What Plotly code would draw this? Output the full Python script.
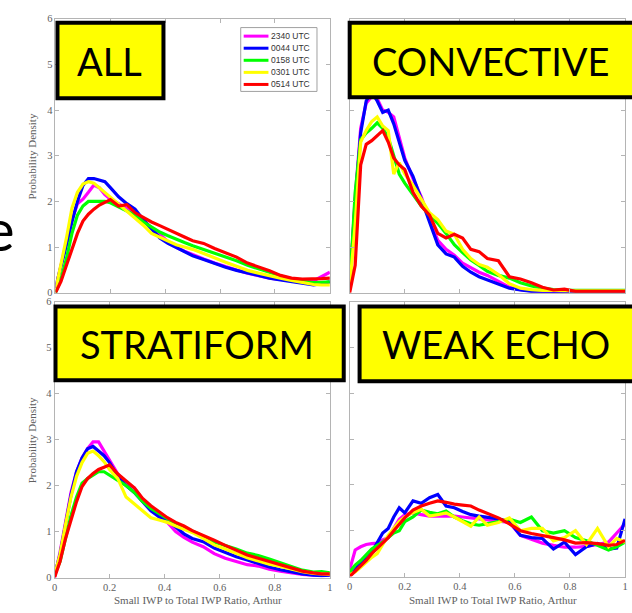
import plotly.graph_objects as go

# Ratio axis (shared by every curve)
X = [0.00, 0.02, 0.04, 0.06, 0.08, 0.10, 0.12, 0.14, 0.16, 0.18, 0.20,
     0.23, 0.26, 0.29, 0.32, 0.35, 0.38, 0.41, 0.44, 0.47, 0.50,
     0.54, 0.58, 0.62, 0.66, 0.70, 0.74, 0.78, 0.82, 0.86, 0.90,
     0.94, 0.97, 1.00]

TIMES = ["2340 UTC", "0044 UTC", "0158 UTC", "0301 UTC", "0514 UTC"]
COLORS = ["#ff00ff", "#0000ff", "#00ff00", "#ffff00", "#ff0000"]

# ---- ALL ----
ALL_2340 = [0.10, 0.60, 1.10, 1.60, 1.95, 2.05, 2.20, 2.36, 2.30, 2.15, 2.05,
            1.95, 1.85, 1.72, 1.58, 1.43, 1.28, 1.12, 1.00, 0.91, 0.83,
            0.74, 0.65, 0.57, 0.50, 0.43, 0.37, 0.32, 0.29, 0.27, 0.26,
            0.26, 0.35, 0.45]
ALL_0044 = [0.10, 0.55, 1.05, 1.55, 2.00, 2.35, 2.50, 2.50, 2.47, 2.43, 2.30,
            2.10, 1.95, 1.83, 1.60, 1.40, 1.20, 1.08, 0.99, 0.90, 0.81,
            0.73, 0.64, 0.56, 0.49, 0.43, 0.37, 0.32, 0.28, 0.24, 0.20,
            0.17, 0.20, 0.24]
ALL_0158 = [0.00, 0.30, 0.75, 1.30, 1.70, 1.90, 2.00, 2.00, 2.00, 2.00, 1.97,
            1.88, 1.80, 1.70, 1.55, 1.43, 1.33, 1.25, 1.17, 1.10, 1.03,
            0.95, 0.86, 0.78, 0.70, 0.60, 0.53, 0.45, 0.37, 0.30, 0.25,
            0.22, 0.23, 0.24]
ALL_0301 = [0.05, 0.60, 1.20, 1.85, 2.20, 2.38, 2.43, 2.40, 2.30, 2.20, 2.10,
            1.95, 1.80, 1.65, 1.48, 1.30, 1.22, 1.14, 1.05, 1.00, 0.95,
            0.86, 0.76, 0.67, 0.58, 0.49, 0.43, 0.37, 0.32, 0.27, 0.22,
            0.18, 0.17, 0.17]
ALL_0514 = [0.00, 0.25, 0.60, 0.97, 1.30, 1.57, 1.72, 1.83, 1.92, 1.98, 2.04,
            1.90, 1.93, 1.75, 1.65, 1.55, 1.47, 1.38, 1.30, 1.22, 1.14,
            1.08, 0.97, 0.87, 0.78, 0.65, 0.57, 0.48, 0.38, 0.32, 0.30,
            0.30, 0.31, 0.32]

# ---- CONVECTIVE ----
CONV_2340 = [0.10, 2.10, 3.60, 4.15, 4.30, 4.25, 4.00, 3.95, 3.85, 3.40, 2.95,
             2.50, 2.10, 1.60, 1.15, 0.95, 0.82, 0.65, 0.55, 0.45, 0.38,
             0.25, 0.12, 0.07, 0.04, 0.03, 0.02, 0.02, 0.02, 0.02, 0.02,
             0.02, 0.02, 0.02]
CONV_0044 = [0.10, 2.00, 3.50, 4.20, 4.40, 4.20, 3.95, 4.00, 3.70, 3.30, 2.90,
             2.55, 2.05, 1.50, 1.05, 0.85, 0.78, 0.58, 0.45, 0.35, 0.28,
             0.18, 0.10, 0.06, 0.03, 0.02, 0.02, 0.02, 0.02, 0.02, 0.02,
             0.02, 0.02, 0.02]
CONV_0158 = [0.10, 2.20, 3.35, 3.50, 3.60, 3.72, 3.60, 3.40, 3.00, 2.60, 2.40,
             2.15, 1.90, 1.70, 1.52, 1.30, 1.05, 0.88, 0.72, 0.60, 0.47,
             0.38, 0.32, 0.22, 0.15, 0.10, 0.07, 0.06, 0.06, 0.06, 0.06,
             0.05, 0.05, 0.05]
CONV_0301 = [0.10, 1.50, 3.30, 3.55, 3.75, 3.85, 3.65, 3.55, 2.60, 2.85, 2.60,
             2.35, 2.05, 1.75, 1.60, 1.35, 1.28, 0.95, 0.75, 0.62, 0.56,
             0.40, 0.20, 0.10, 0.07, 0.05, 0.05, 0.04, 0.04, 0.04, 0.04,
             0.04, 0.04, 0.04]
CONV_0514 = [0.00, 0.60, 2.80, 3.25, 3.33, 3.45, 3.55, 3.30, 2.95, 2.80, 2.70,
             2.20, 1.90, 1.70, 1.30, 1.20, 1.28, 1.20, 0.95, 0.90, 0.75,
             0.70, 0.35, 0.30, 0.22, 0.12, 0.06, 0.08, 0.03, 0.03, 0.03,
             0.03, 0.03, 0.03]

# ---- STRATIFORM ----
STRAT_2340 = [0.00, 0.55, 1.20, 1.85, 2.30, 2.60, 2.80, 2.95, 2.95, 2.75, 2.55,
              2.25, 2.05, 1.95, 1.70, 1.50, 1.32, 1.20, 1.00, 0.87, 0.77,
              0.67, 0.52, 0.42, 0.35, 0.28, 0.25, 0.18, 0.14, 0.10, 0.07,
              0.05, 0.05, 0.06]
STRAT_0044 = [0.05, 0.50, 1.15, 1.80, 2.30, 2.60, 2.80, 2.85, 2.75, 2.65, 2.50,
              2.20, 2.00, 1.85, 1.65, 1.45, 1.32, 1.25, 1.10, 0.95, 0.85,
              0.78, 0.64, 0.55, 0.45, 0.38, 0.30, 0.23, 0.17, 0.12, 0.08,
              0.05, 0.04, 0.05]
STRAT_0158 = [0.05, 0.35, 0.85, 1.35, 1.75, 2.05, 2.15, 2.22, 2.30, 2.30, 2.22,
              2.10, 2.00, 1.85, 1.65, 1.50, 1.38, 1.28, 1.18, 1.10, 1.02,
              0.90, 0.77, 0.70, 0.62, 0.53, 0.48, 0.40, 0.32, 0.23, 0.16,
              0.12, 0.13, 0.10]
STRAT_0301 = [0.05, 0.50, 1.15, 1.75, 2.20, 2.50, 2.70, 2.75, 2.65, 2.52, 2.35,
              2.15, 1.75, 1.60, 1.45, 1.30, 1.25, 1.20, 1.12, 1.05, 0.98,
              0.85, 0.71, 0.62, 0.52, 0.43, 0.36, 0.29, 0.24, 0.18, 0.13,
              0.09, 0.08, 0.07]
STRAT_0514 = [0.00, 0.35, 0.85, 1.25, 1.65, 1.98, 2.15, 2.26, 2.35, 2.40, 2.45,
              2.25, 2.10, 1.95, 1.72, 1.56, 1.43, 1.30, 1.20, 1.12, 1.02,
              0.92, 0.81, 0.70, 0.60, 0.49, 0.42, 0.35, 0.28, 0.20, 0.14,
              0.10, 0.08, 0.08]

# ---- WEAK ECHO ----
WEAK_2340 = [0.15, 0.58, 0.65, 0.70, 0.72, 0.73, 0.80, 0.85, 1.05, 1.25, 1.35,
             1.39, 1.35, 1.32, 1.32, 1.32, 1.32, 1.30, 1.28, 1.26, 1.24,
             1.20, 1.18, 0.90, 0.82, 0.73, 0.68, 0.64, 0.64, 0.66, 0.70,
             0.75, 0.95, 1.15]
WEAK_0044 = [0.04, 0.15, 0.30, 0.45, 0.53, 0.75, 0.95, 1.05, 1.30, 1.50, 1.39,
             1.65, 1.60, 1.72, 1.79, 1.54, 1.50, 1.42, 1.35, 1.32, 1.30,
             1.26, 1.20, 0.90, 0.85, 0.83, 0.60, 0.75, 0.48, 0.65, 0.72,
             0.60, 0.62, 1.26]
WEAK_0158 = [0.10, 0.25, 0.35, 0.47, 0.60, 0.68, 0.75, 0.85, 0.95, 1.00, 1.20,
             1.30, 1.45, 1.40, 1.37, 1.43, 1.30, 1.22, 1.15, 1.12, 1.15,
             1.20, 1.25, 1.18, 1.30, 1.00, 0.95, 1.00, 0.85, 0.78, 0.68,
             0.58, 0.65, 0.75]
WEAK_0301 = [0.04, 0.10, 0.20, 0.32, 0.42, 0.50, 0.70, 0.90, 1.05, 1.20, 1.30,
             1.40, 1.47, 1.32, 1.35, 1.39, 1.30, 1.20, 1.10, 1.30, 1.12,
             1.18, 1.28, 1.00, 1.05, 1.05, 0.78, 0.85, 1.00, 0.70, 1.05,
             0.65, 0.83, 0.75]
WEAK_0514 = [0.00, 0.12, 0.25, 0.35, 0.50, 0.62, 0.75, 0.85, 1.00, 1.15, 1.28,
             1.45, 1.54, 1.60, 1.65, 1.62, 1.58, 1.56, 1.54, 1.45, 1.38,
             1.28, 1.15, 1.00, 0.94, 0.90, 0.85, 0.80, 0.73, 0.74, 0.72,
             0.68, 0.70, 0.79]

PANEL_TITLES = ["ALL", "CONVECTIVE", "STRATIFORM", "WEAK ECHO"]
PANEL_SERIES = [
    [ALL_2340, ALL_0044, ALL_0158, ALL_0301, ALL_0514],
    [CONV_2340, CONV_0044, CONV_0158, CONV_0301, CONV_0514],
    [STRAT_2340, STRAT_0044, STRAT_0158, STRAT_0301, STRAT_0514],
    [WEAK_2340, WEAK_0044, WEAK_0158, WEAK_0301, WEAK_0514],
]
X_TICKS = [0, 0.2, 0.4, 0.6, 0.8, 1]
X_TICK_TEXT = ["0", "0.2", "0.4", "0.6", "0.8", "1"]
Y_TICKS = [0, 1, 2, 3, 4, 5, 6]

W, H = 632, 613


def fx(p):
    return p / W


def fy(p):
    return 1 - p / H


# pixel boxes of the four plot areas: (left, right, top, bottom)
AREAS = [(53, 330, 14, 293), (350, 628, 14, 293),
         (52, 330, 302, 583), (350, 628, 302, 582)]
# label boxes: (left, right, top, bottom) along the border centre line
LABEL_BOXES = [(55, 162, 18, 95), (350, 640, 18, 94),
               (53, 344, 307, 382), (360, 640, 307, 383)]
# centres of the label texts
LABEL_CENTRES = [(108, 57), (493, 57), (196, 345), (498, 345)]

GREY = "#606060"
TICK_FONT = dict(family="Liberation Serif", size=10.5, color=GREY)

fig = go.Figure()
layout = dict(width=W, height=H, margin=dict(l=0, r=0, t=0, b=0),
              paper_bgcolor="white", plot_bgcolor="white",
              showlegend=False, shapes=[], annotations=[])


def note(x, y, text, font, **kw):
    d = dict(xref="paper", yref="paper", x=fx(x), y=fy(y), text=text,
             showarrow=False, xanchor="center", yanchor="middle", font=font)
    d.update(kw)
    layout["annotations"].append(d)


for k, (series, area) in enumerate(zip(PANEL_SERIES, AREAS)):
    n = "" if k == 0 else str(k + 1)
    for name, color, ys in zip(TIMES, COLORS, series):
        fig.add_trace(go.Scatter(x=X, y=ys, mode="lines", name=name,
                                 line=dict(color=color, width=3.2),
                                 xaxis="x" + n, yaxis="y" + n))
    left, right, top, bottom = area
    bottom_row = k >= 2
    left_col = k % 2 == 0
    layout["xaxis" + n] = dict(
        domain=[fx(left), fx(right)], anchor="y" + n, range=[0, 1],
        showgrid=False, zeroline=False, showline=True, linecolor="#b4b4b4",
        linewidth=1, mirror="ticks", ticks="inside", ticklen=4,
        tickcolor="#b4b4b4", tickvals=X_TICKS, ticktext=X_TICK_TEXT,
        showticklabels=bottom_row, tickfont=TICK_FONT)
    layout["yaxis" + n] = dict(
        domain=[fy(bottom), fy(top)], anchor="x" + n, range=[0, 6],
        showgrid=False, zeroline=False, showline=True, linecolor="#b4b4b4",
        linewidth=1, mirror="ticks", ticks="inside", ticklen=4,
        tickcolor="#b4b4b4", tickvals=Y_TICKS,
        showticklabels=left_col, tickfont=TICK_FONT)

    if left_col:
        note(29, (top + bottom) / 2 + 1, "Probability Density",
             dict(family="Liberation Serif", size=11, color=GREY),
             textangle=-90)
    if bottom_row:
        note((left + right) / 2 + 6, 606, "Small IWP to Total IWP Ratio, Arthur",
             dict(family="Liberation Serif", size=11, color=GREY))

# yellow panel labels
for title, (l, r, t, b), (cx, cy) in zip(PANEL_TITLES, LABEL_BOXES,
                                         LABEL_CENTRES):
    layout["shapes"].append(dict(
        type="rect", xref="paper", yref="paper", layer="above",
        x0=fx(l), x1=fx(r), y0=fy(b), y1=fy(t),
        fillcolor="#ffff00", line=dict(color="black", width=4)))
    note(cx, cy, title, dict(family="Lato", size=38, color="black"))

# legend box drawn inside the first panel
LEG_L, LEG_R, LEG_T, LEG_B = 240, 317, 23, 88
layout["shapes"].append(dict(
    type="rect", xref="paper", yref="paper", layer="above",
    x0=fx(LEG_L), x1=fx(LEG_R), y0=fy(LEG_B), y1=fy(LEG_T),
    fillcolor="white", line=dict(color="#a0a0a0", width=1)))
for i, (name, color) in enumerate(zip(TIMES, COLORS)):
    yy = 31.7 + 12.3 * i
    layout["shapes"].append(dict(
        type="line", xref="paper", yref="paper", layer="above",
        x0=fx(243), x1=fx(268), y0=fy(yy), y1=fy(yy),
        line=dict(color=color, width=3)))
    note(269, yy, name, dict(family="Liberation Sans", size=8.5,
                             color="#333333"), xanchor="left")

# fragment of slide text at the left edge
note(-4, 228, "e", dict(family="Lato", size=58, color="black"))

fig.update_layout(**layout)
fig.write_html("out.html")
